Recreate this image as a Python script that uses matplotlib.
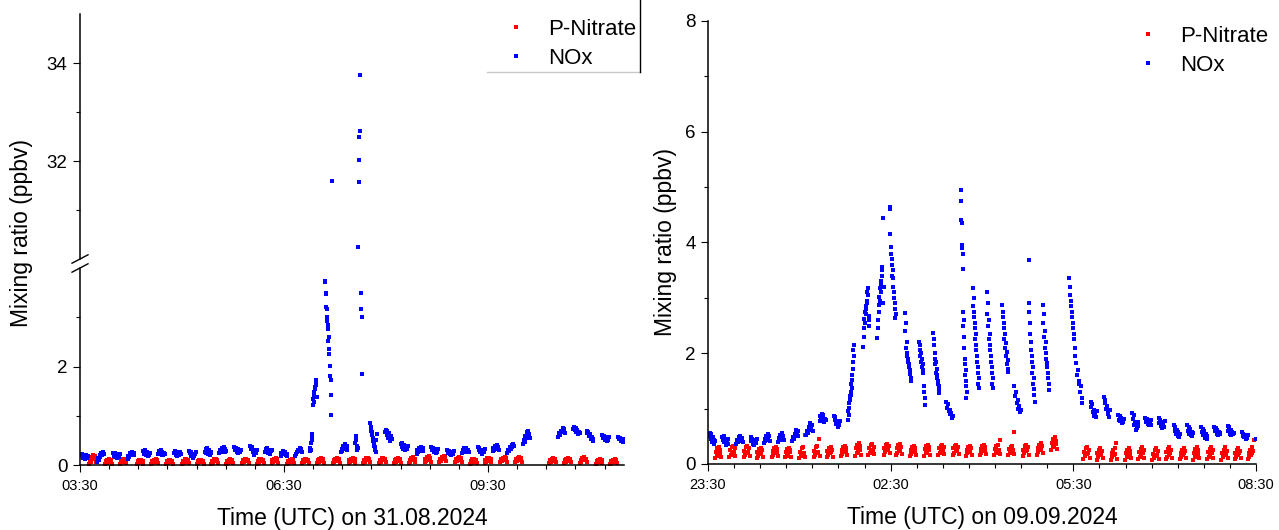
import numpy as np
import pandas as pd
import matplotlib
matplotlib.use("Agg")
import matplotlib.pyplot as plt
import matplotlib.dates as mdates
from matplotlib.ticker import AutoMinorLocator, FixedLocator, MultipleLocator
from matplotlib.lines import Line2D

plt.rcParams['font.family'] = ['Liberation Sans', 'DejaVu Sans']

RED = '#ff0000'
BLUE = '#0000ff'

# ---------------- 31.08.2024 ----------------
day1 = "2024-08-31"
nox1_times = ["03:34", "03:48", "04:02", "04:15", "04:29", "04:42", "04:56", "05:09", "05:23",
              "05:36", "05:49", "06:03", "06:16", "06:30", "06:43", "06:56", "07:09", "07:23",
              "07:36", "07:49", "08:02", "08:16", "08:30", "08:43", "08:57", "09:10", "09:24",
              "09:37", "09:50", "10:04", "10:35", "10:48", "11:00", "11:14", "11:28"]
nox1_vals = [
    [0.18, 0.22, 0.14, 0.20, 0.12, 0.17, 0.21, 0.15, 0.19],
    [0.07, 0.14, 0.10, 0.20, 0.16, 0.25, 0.21, 0.26, 0.22],
    [0.24, 0.18, 0.25, 0.16, 0.22, 0.15, 0.20, 0.17, 0.23],
    [0.13, 0.19, 0.16, 0.24, 0.20, 0.27, 0.22, 0.25, 0.21],
    [0.29, 0.22, 0.30, 0.20, 0.26, 0.19, 0.24, 0.21, 0.25],
    [0.22, 0.28, 0.24, 0.30, 0.21, 0.27, 0.20, 0.25, 0.23],
    [0.24, 0.29, 0.21, 0.27, 0.18, 0.25, 0.20, 0.26, 0.23],
    [0.28, 0.24, 0.26, 0.19, 0.21, 0.14, 0.18, 0.22, 0.26],
    [0.27, 0.32, 0.25, 0.34, 0.22, 0.30, 0.21, 0.26, 0.24],
    [0.24, 0.30, 0.27, 0.35, 0.31, 0.36, 0.26, 0.32, 0.28],
    [0.36, 0.30, 0.35, 0.27, 0.32, 0.24, 0.29, 0.26, 0.31],
    [0.39, 0.33, 0.36, 0.27, 0.30, 0.21, 0.26, 0.24, 0.30],
    [0.27, 0.33, 0.29, 0.35, 0.25, 0.31, 0.23, 0.28, 0.30],
    [0.19, 0.25, 0.22, 0.28, 0.24, 0.27, 0.20, 0.23, 0.18],
    [0.18, 0.23, 0.26, 0.31, 0.28, 0.35, 0.30, 0.33, 0.26],
    [0.28, 0.35, 0.30, 0.45, 0.55, 0.62, 0.50, 1.22, 1.35, 1.28, 1.48, 1.42, 1.58, 1.55,
     1.68, 1.62, 1.73, 1.38],
    [3.74, 3.72, 3.50, 3.20, 3.48, 3.17, 2.92, 3.00, 2.76, 2.85, 2.52, 2.60, 2.25, 2.35,
     1.80, 2.01, 1.72, 1.43, 1.02, 31.6],
    [0.26, 0.33, 0.29, 0.38, 0.33, 0.42, 0.36, 0.39, 0.30],
    [0.45, 0.58, 0.50, 0.38, 0.30, 0.35, 30.25, 31.57, 32.02, 32.5, 32.61, 33.75,
     3.50, 3.16, 3.01, 1.84],
    [0.86, 0.70, 0.78, 0.60, 0.66, 0.48, 0.55, 0.38, 0.45, 0.30, 0.36, 0.27, 0.50, 0.62],
    [0.66, 0.72, 0.60, 0.70, 0.55, 0.64, 0.49, 0.58, 0.52],
    [0.42, 0.36, 0.45, 0.33, 0.40, 0.30, 0.37, 0.32, 0.39],
    [0.23, 0.30, 0.26, 0.35, 0.29, 0.37, 0.31, 0.34, 0.28],
    [0.36, 0.30, 0.35, 0.27, 0.33, 0.25, 0.30, 0.27, 0.32],
    [0.31, 0.25, 0.29, 0.22, 0.27, 0.20, 0.24, 0.22, 0.28],
    [0.24, 0.30, 0.27, 0.34, 0.29, 0.35, 0.27, 0.31, 0.26],
    [0.37, 0.31, 0.35, 0.27, 0.31, 0.23, 0.28, 0.26, 0.33],
    [0.29, 0.35, 0.31, 0.39, 0.34, 0.41, 0.33, 0.37, 0.30],
    [0.25, 0.30, 0.28, 0.36, 0.32, 0.41, 0.37, 0.43, 0.39],
    [0.42, 0.50, 0.46, 0.58, 0.54, 0.66, 0.60, 0.70, 0.63, 0.55],
    [0.57, 0.64, 0.60, 0.70, 0.66, 0.75, 0.69, 0.73, 0.64],
    [0.74, 0.78, 0.71, 0.76, 0.67, 0.72, 0.63, 0.68, 0.65],
    [0.69, 0.64, 0.67, 0.58, 0.62, 0.52, 0.57, 0.48, 0.53],
    [0.61, 0.55, 0.59, 0.51, 0.56, 0.48, 0.53, 0.50, 0.57],
    [0.57, 0.52, 0.55, 0.48, 0.53, 0.46, 0.50, 0.47, 0.52],
]
nit1_times = ["03:41", "03:55", "04:08", "04:23", "04:36", "04:49", "05:03", "05:16", "05:29",
              "05:42", "05:56", "06:09", "06:22", "06:36", "06:49", "07:02", "07:16", "07:30",
              "07:43", "07:57", "08:10", "08:23", "08:37", "08:50", "09:04", "09:17", "09:30",
              "09:44", "09:57", "10:27", "10:40", "10:54", "11:08", "11:21"]
nit1_vals = [
    [0.03, 0.10, 0.06, 0.16, 0.12, 0.20, 0.14, 0.18, 0.07],
    [0.02, 0.08, 0.04, 0.11, 0.06, 0.12, 0.07, 0.10, 0.03],
    [0.03, 0.09, 0.05, 0.12, 0.07, 0.13, 0.08, 0.11, 0.04],
    [0.02, 0.08, 0.04, 0.10, 0.06, 0.11, 0.07, 0.09, 0.03],
    [0.03, 0.09, 0.05, 0.11, 0.07, 0.12, 0.08, 0.10, 0.04],
    [0.02, 0.08, 0.04, 0.10, 0.06, 0.11, 0.07, 0.09, 0.03],
    [0.03, 0.09, 0.05, 0.12, 0.07, 0.12, 0.08, 0.10, 0.04],
    [0.02, 0.08, 0.04, 0.10, 0.06, 0.11, 0.07, 0.09, 0.03],
    [0.03, 0.09, 0.05, 0.12, 0.08, 0.13, 0.09, 0.11, 0.04],
    [0.03, 0.09, 0.05, 0.11, 0.07, 0.12, 0.08, 0.10, 0.04],
    [0.04, 0.10, 0.06, 0.12, 0.08, 0.13, 0.09, 0.11, 0.05],
    [0.03, 0.09, 0.05, 0.12, 0.08, 0.13, 0.09, 0.11, 0.04],
    [0.04, 0.10, 0.06, 0.13, 0.09, 0.14, 0.10, 0.12, 0.05],
    [0.03, 0.09, 0.05, 0.11, 0.07, 0.12, 0.08, 0.10, 0.04],
    [0.04, 0.10, 0.06, 0.12, 0.08, 0.13, 0.09, 0.11, 0.05],
    [0.04, 0.10, 0.06, 0.13, 0.09, 0.15, 0.10, 0.12, 0.05],
    [0.04, 0.10, 0.06, 0.13, 0.09, 0.14, 0.10, 0.12, 0.05],
    [0.04, 0.10, 0.06, 0.13, 0.09, 0.14, 0.10, 0.12, 0.05],
    [0.05, 0.11, 0.07, 0.14, 0.10, 0.15, 0.11, 0.13, 0.06],
    [0.05, 0.11, 0.07, 0.14, 0.10, 0.15, 0.11, 0.13, 0.06],
    [0.04, 0.10, 0.06, 0.13, 0.09, 0.14, 0.10, 0.12, 0.05],
    [0.05, 0.11, 0.07, 0.14, 0.10, 0.16, 0.11, 0.13, 0.06],
    [0.06, 0.13, 0.08, 0.16, 0.11, 0.18, 0.13, 0.15, 0.07],
    [0.07, 0.13, 0.09, 0.17, 0.12, 0.19, 0.14, 0.16, 0.08],
    [0.06, 0.12, 0.08, 0.15, 0.10, 0.17, 0.12, 0.14, 0.07],
    [0.03, 0.09, 0.05, 0.12, 0.07, 0.13, 0.08, 0.10, 0.04],
    [0.05, 0.11, 0.07, 0.14, 0.09, 0.15, 0.10, 0.13, 0.06],
    [0.06, 0.12, 0.08, 0.15, 0.10, 0.17, 0.12, 0.14, 0.07],
    [0.06, 0.12, 0.08, 0.15, 0.10, 0.17, 0.12, 0.14, 0.07],
    [0.05, 0.10, 0.07, 0.13, 0.09, 0.14, 0.10, 0.12, 0.06],
    [0.05, 0.10, 0.07, 0.13, 0.09, 0.14, 0.10, 0.12, 0.06],
    [0.05, 0.11, 0.07, 0.14, 0.10, 0.16, 0.11, 0.13, 0.06],
    [0.03, 0.09, 0.05, 0.11, 0.07, 0.12, 0.08, 0.10, 0.04],
    [0.03, 0.09, 0.05, 0.11, 0.07, 0.12, 0.08, 0.10, 0.04],
]

# ---------------- 09.09.2024 (run starts 23:30 on 08.09) ----------------
day2 = "2024-09-09"
nox2_times = ["23:34", "23:47", "00:01", "00:15", "00:28", "00:42", "00:56", "01:10", "01:23",
              "01:37", "01:51", "02:06", "02:20", "02:32", "02:47", "03:01", "03:15", "03:28",
              "03:42", "03:54", "04:08", "04:23", "04:35", "04:49", "05:03", "05:29", "05:36",
              "05:50", "06:03", "06:17", "06:31", "06:44", "06:57", "07:12", "07:25", "07:39",
              "07:52", "08:05", "08:19", "08:30"]
nox2_vals = [
    [0.50, 0.56, 0.45, 0.54, 0.40, 0.49, 0.37, 0.44, 0.41],
    [0.49, 0.44, 0.51, 0.40, 0.46, 0.35, 0.42, 0.37, 0.45],
    [0.36, 0.43, 0.39, 0.48, 0.44, 0.51, 0.42, 0.47, 0.40],
    [0.48, 0.42, 0.46, 0.37, 0.43, 0.35, 0.40, 0.38, 0.45],
    [0.38, 0.45, 0.41, 0.50, 0.46, 0.54, 0.44, 0.50, 0.42],
    [0.40, 0.47, 0.43, 0.52, 0.48, 0.56, 0.46, 0.51, 0.44],
    [0.41, 0.49, 0.45, 0.55, 0.50, 0.62, 0.54, 0.59, 0.50],
    [0.52, 0.60, 0.56, 0.67, 0.62, 0.74, 0.66, 0.71, 0.60],
    [0.78, 0.86, 0.80, 0.90, 0.83, 0.88, 0.76, 0.82, 0.80],
    [0.86, 0.80, 0.84, 0.73, 0.78, 0.67, 0.72, 0.70, 0.77],
    [0.80, 0.95, 0.88, 1.10, 1.02, 1.22, 1.15, 1.30, 1.25, 1.45, 1.38, 1.60, 1.52, 1.85,
     1.72, 2.05, 1.95, 2.15],
    [2.12, 2.45, 2.30, 2.62, 2.55, 2.75, 2.70, 2.85, 2.80, 2.95, 2.90, 3.10, 3.05, 3.18,
     2.60, 2.50, 2.68],
    [2.28, 2.60, 2.45, 2.88, 2.75, 3.02, 2.95, 3.18, 3.10, 3.30, 3.25, 3.50, 3.40, 3.55,
     4.44, 2.90, 3.20],
    [4.65, 4.60, 4.15, 3.80, 3.92, 3.60, 3.70, 3.40, 3.50, 3.20, 3.35, 3.00, 3.10, 2.80,
     2.90, 2.64, 2.70],
    [2.73, 2.40, 2.55, 2.10, 2.20, 1.95, 2.00, 1.85, 1.90, 1.75, 1.80, 1.62, 1.70, 1.49, 1.55],
    [2.21, 2.05, 2.15, 1.95, 2.00, 1.85, 1.90, 1.75, 1.80, 1.65, 1.70, 1.40, 1.30, 1.20, 1.07],
    [2.36, 2.15, 2.25, 1.90, 2.00, 1.80, 1.85, 1.65, 1.72, 1.55, 1.60, 1.45, 1.50, 1.35,
     1.40, 1.28],
    [1.12, 1.02, 1.08, 0.95, 0.98, 0.90, 0.92, 0.83, 0.86],
    [4.95, 4.75, 4.40, 4.35, 3.95, 3.90, 3.80, 3.53, 2.75, 2.50, 2.60, 2.10, 2.30, 1.80,
     1.90, 1.60, 1.70, 1.40, 1.50, 1.19, 1.30],
    [3.18, 2.85, 3.00, 2.65, 2.75, 2.45, 2.55, 2.25, 2.35, 2.05, 2.15, 1.85, 1.95, 1.65,
     1.75, 1.45, 1.55, 1.37],
    [3.11, 2.70, 2.90, 2.50, 2.60, 2.25, 2.35, 2.05, 2.15, 1.85, 1.95, 1.65, 1.75, 1.45,
     1.55, 1.37],
    [2.87, 2.65, 2.75, 2.45, 2.55, 2.25, 2.35, 2.10, 2.18, 1.95, 2.02, 1.80, 1.88, 1.67, 1.72],
    [1.40, 1.22, 1.30, 1.10, 1.15, 1.00, 1.05, 0.94, 0.97],
    [3.68, 2.75, 2.90, 2.35, 2.55, 2.05, 2.20, 1.85, 1.95, 1.65, 1.75, 1.45, 1.55, 1.25,
     1.35, 1.12],
    [2.87, 2.55, 2.70, 2.30, 2.40, 2.10, 2.20, 1.90, 2.00, 1.75, 1.82, 1.55, 1.65, 1.34, 1.45],
    [3.35, 3.05, 3.20, 2.85, 2.95, 2.65, 2.75, 2.45, 2.55, 2.25, 2.35, 1.95, 2.10],
    [1.82, 1.60, 1.70, 1.45, 1.50, 1.30, 1.40, 1.10, 1.20],
    [1.12, 1.03, 1.08, 0.94, 0.98, 0.87, 0.90, 0.85, 0.95],
    [1.21, 1.10, 1.15, 1.00, 1.05, 0.90, 0.95, 0.85, 0.98],
    [0.88, 0.80, 0.86, 0.77, 0.83, 0.74, 0.78, 0.76, 0.82],
    [0.92, 0.82, 0.88, 0.70, 0.76, 0.61, 0.65, 0.68, 0.75],
    [0.83, 0.75, 0.81, 0.72, 0.78, 0.70, 0.74, 0.71, 0.79],
    [0.83, 0.74, 0.80, 0.68, 0.76, 0.65, 0.72, 0.67, 0.77],
    [0.70, 0.60, 0.66, 0.54, 0.62, 0.50, 0.58, 0.49, 0.55],
    [0.70, 0.60, 0.67, 0.55, 0.63, 0.52, 0.58, 0.50, 0.56],
    [0.67, 0.57, 0.63, 0.52, 0.59, 0.47, 0.55, 0.46, 0.50],
    [0.67, 0.60, 0.65, 0.55, 0.62, 0.52, 0.58, 0.54, 0.56],
    [0.68, 0.60, 0.66, 0.55, 0.62, 0.52, 0.58, 0.54, 0.56],
    [0.57, 0.50, 0.55, 0.48, 0.52, 0.46, 0.50, 0.47, 0.53],
    [0.46],
]
nit2_times = ["23:40", "23:54", "00:08", "00:21", "00:36", "00:49", "01:03", "01:17", "01:30",
              "01:44", "01:58", "02:11", "02:26", "02:38", "02:52", "03:06", "03:20", "03:34",
              "03:47", "04:01", "04:15", "04:29", "04:43", "04:57", "05:11", "05:43", "05:56",
              "06:10", "06:24", "06:37", "06:51", "07:04", "07:18", "07:31", "07:45", "07:59",
              "08:12", "08:25"]
nit2_vals = [
    [0.10, 0.22, 0.14, 0.28, 0.18, 0.30, 0.20, 0.26, 0.12],
    [0.12, 0.25, 0.16, 0.31, 0.20, 0.33, 0.22, 0.29, 0.14],
    [0.12, 0.24, 0.16, 0.30, 0.20, 0.32, 0.22, 0.28, 0.14],
    [0.10, 0.21, 0.14, 0.27, 0.18, 0.29, 0.20, 0.25, 0.12],
    [0.12, 0.23, 0.16, 0.29, 0.20, 0.31, 0.22, 0.27, 0.14],
    [0.12, 0.22, 0.15, 0.27, 0.19, 0.29, 0.21, 0.25, 0.13],
    [0.10, 0.22, 0.14, 0.28, 0.18, 0.30, 0.20, 0.52, 0.12],
    [0.12, 0.24, 0.16, 0.30, 0.20, 0.32, 0.22, 0.46, 0.14],
    [0.12, 0.23, 0.16, 0.28, 0.19, 0.30, 0.21, 0.26, 0.13],
    [0.14, 0.25, 0.18, 0.31, 0.22, 0.33, 0.24, 0.29, 0.16],
    [0.15, 0.28, 0.20, 0.35, 0.24, 0.38, 0.26, 0.32, 0.17],
    [0.16, 0.28, 0.20, 0.34, 0.24, 0.36, 0.26, 0.31, 0.18],
    [0.17, 0.29, 0.21, 0.35, 0.25, 0.37, 0.27, 0.32, 0.19],
    [0.16, 0.28, 0.20, 0.34, 0.24, 0.36, 0.26, 0.31, 0.18],
    [0.14, 0.25, 0.18, 0.31, 0.22, 0.33, 0.24, 0.29, 0.16],
    [0.15, 0.27, 0.19, 0.32, 0.23, 0.34, 0.25, 0.30, 0.17],
    [0.16, 0.28, 0.20, 0.33, 0.24, 0.35, 0.26, 0.31, 0.18],
    [0.16, 0.28, 0.20, 0.33, 0.24, 0.35, 0.26, 0.31, 0.18],
    [0.15, 0.26, 0.19, 0.31, 0.22, 0.33, 0.24, 0.29, 0.17],
    [0.16, 0.27, 0.20, 0.32, 0.23, 0.34, 0.25, 0.30, 0.18],
    [0.16, 0.27, 0.20, 0.32, 0.23, 0.34, 0.25, 0.44, 0.18],
    [0.16, 0.27, 0.20, 0.31, 0.23, 0.33, 0.25, 0.58, 0.18],
    [0.15, 0.26, 0.19, 0.32, 0.23, 0.34, 0.25, 0.30, 0.17],
    [0.17, 0.29, 0.21, 0.35, 0.25, 0.38, 0.27, 0.33, 0.19],
    [0.25, 0.38, 0.30, 0.45, 0.34, 0.49, 0.36, 0.42, 0.27],
    [0.09, 0.22, 0.14, 0.28, 0.18, 0.31, 0.20, 0.26, 0.11],
    [0.08, 0.20, 0.12, 0.26, 0.16, 0.29, 0.18, 0.24, 0.10],
    [0.07, 0.20, 0.12, 0.26, 0.16, 0.29, 0.18, 0.38, 0.09],
    [0.08, 0.19, 0.12, 0.25, 0.16, 0.28, 0.18, 0.23, 0.10],
    [0.09, 0.21, 0.13, 0.27, 0.17, 0.30, 0.19, 0.25, 0.11],
    [0.07, 0.18, 0.11, 0.25, 0.15, 0.29, 0.17, 0.23, 0.09],
    [0.09, 0.21, 0.13, 0.27, 0.17, 0.31, 0.19, 0.25, 0.11],
    [0.09, 0.20, 0.13, 0.26, 0.17, 0.29, 0.19, 0.24, 0.11],
    [0.08, 0.20, 0.12, 0.27, 0.16, 0.31, 0.18, 0.25, 0.10],
    [0.09, 0.21, 0.13, 0.27, 0.17, 0.31, 0.19, 0.25, 0.11],
    [0.08, 0.20, 0.12, 0.26, 0.16, 0.30, 0.18, 0.24, 0.10],
    [0.09, 0.20, 0.13, 0.26, 0.17, 0.29, 0.19, 0.24, 0.11],
    [0.09, 0.20, 0.13, 0.26, 0.17, 0.30, 0.19, 0.24, 0.43],
]


def expand(day, times, groups, width=6.0, prev_day_after=None):
    # each group = samples of one measurement cycle, spread over `width` minutes
    xs, ys = [], []
    for t, vals in zip(times, groups):
        center = pd.Timestamp(f"{day} {t}")
        if prev_day_after is not None and center.hour >= prev_day_after:
            center -= pd.Timedelta(days=1)
        n = len(vals)
        offs = np.linspace(-width / 2, width / 2, n) if n > 1 else [0.0]
        for o, v in zip(offs, vals):
            xs.append(center + pd.Timedelta(minutes=float(o)))
            ys.append(v)
    return mdates.date2num(xs), np.array(ys)


def style_axis(ax, bottom=True):
    for s in ['top', 'right']:
        ax.spines[s].set_visible(False)
    ax.spines['left'].set_linewidth(1.1)
    ax.spines['bottom'].set_linewidth(1.1)
    if not bottom:
        ax.spines['bottom'].set_visible(False)
        ax.tick_params(axis='x', which='both', bottom=False, labelbottom=False)
    ax.tick_params(axis='both', which='major', direction='out', length=5, width=0.8)
    ax.tick_params(axis='both', which='minor', direction='out', length=3, width=0.8)
    ax.tick_params(axis='y', labelsize=13.5, pad=4)
    ax.tick_params(axis='x', labelsize=10.5, pad=5)


MS = 2.9
fig = plt.figure(figsize=(12.79, 5.30), dpi=100)

# left panel with broken y axis
ax_lo = fig.add_axes([0.06255, 0.12264, 0.42533, 0.37170])
ax_hi = fig.add_axes([0.06255, 0.51132, 0.42533, 0.46226], sharex=ax_lo)

x_n1, y_n1 = expand(day1, nit1_times, nit1_vals)
x_x1, y_x1 = expand(day1, nox1_times, nox1_vals)
for ax in (ax_lo, ax_hi):
    ax.plot(x_n1, y_n1, 's', color=RED, ms=MS, mew=0, label='P-Nitrate')
    ax.plot(x_x1, y_x1, 's', color=BLUE, ms=MS, mew=0, label='NOx')
    ax.set_facecolor('none')

ax_lo.set_ylim(0, 4)
ax_hi.set_ylim(30, 35)
ax_lo.yaxis.set_major_locator(FixedLocator([0, 2]))
ax_lo.yaxis.set_minor_locator(FixedLocator([1, 3]))
ax_hi.yaxis.set_major_locator(FixedLocator([32, 34]))
ax_hi.yaxis.set_minor_locator(FixedLocator([31, 33]))
style_axis(ax_lo)
style_axis(ax_hi, bottom=False)

t0 = pd.Timestamp(f"{day1} 03:30")
t1 = pd.Timestamp(f"{day1} 11:30")
ax_lo.set_xlim(mdates.date2num(t0), mdates.date2num(t1))
ax_lo.xaxis.set_major_locator(FixedLocator(mdates.date2num(pd.date_range(t0, t1, freq='3h'))))
ax_lo.xaxis.set_minor_locator(AutoMinorLocator(7))
ax_lo.xaxis.set_major_formatter(mdates.DateFormatter('%H:%M'))
ax_lo.set_xlabel('Time (UTC) on 31.08.2024', fontsize=16.5, labelpad=10)

# break marks
for ax, yb in ((ax_hi, 0.0), (ax_lo, 1.0)):
    h = ax.get_position().height * 530
    w = ax.get_position().width * 1279
    ax.plot([-8 / w, 8 / w], [yb - 4.2 / h, yb + 4.2 / h], transform=ax.transAxes,
            color='black', lw=1.0, clip_on=False)

fig.text(22 / 1279, 1 - 233 / 530, 'Mixing ratio (ppbv)', rotation=90, fontsize=16.5,
         ha='center', va='center')

ax_hi.legend(loc='upper left', bbox_to_anchor=(505 / 1279, 1 - 19 / 530),
             bbox_transform=fig.transFigure, frameon=False, fontsize=16,
             handlelength=1.0, handletextpad=0.95, labelspacing=0.35,
             borderpad=0, borderaxespad=0, markerscale=0.8)
fig.add_artist(Line2D([487 / 1279, 640 / 1279], [1 - 72 / 530, 1 - 72 / 530],
                      transform=fig.transFigure, color='#c8c8c8', lw=1.0))
fig.add_artist(Line2D([640 / 1279, 640 / 1279], [1 - 72 / 530, 1.0],
                      transform=fig.transFigure, color='black', lw=1.0))

# right panel
ax_r = fig.add_axes([0.55356, 0.12453, 0.42846, 0.83585])
x_n2, y_n2 = expand(day2, nit2_times, nit2_vals, prev_day_after=20)
x_x2, y_x2 = expand(day2, nox2_times, nox2_vals, prev_day_after=20)
ax_r.plot(x_n2, y_n2, 's', color=RED, ms=MS, mew=0, label='P-Nitrate')
ax_r.plot(x_x2, y_x2, 's', color=BLUE, ms=MS, mew=0, label='NOx')
ax_r.set_ylim(0, 8)
ax_r.yaxis.set_major_locator(MultipleLocator(2))
ax_r.yaxis.set_minor_locator(MultipleLocator(1))
style_axis(ax_r)
r0 = pd.Timestamp("2024-09-08 23:30")
r1 = pd.Timestamp("2024-09-09 08:30")
ax_r.set_xlim(mdates.date2num(r0), mdates.date2num(r1))
ax_r.xaxis.set_major_locator(FixedLocator(mdates.date2num(pd.date_range(r0, r1, freq='3h'))))
ax_r.xaxis.set_minor_locator(AutoMinorLocator(7))
ax_r.xaxis.set_major_formatter(mdates.DateFormatter('%H:%M'))
ax_r.set_xlabel('Time (UTC) on 09.09.2024', fontsize=16.5, labelpad=10)
ax_r.set_ylabel('Mixing ratio (ppbv)', fontsize=16.5, labelpad=6)
ax_r.legend(loc='upper left', bbox_to_anchor=(1137 / 1279, 1 - 26 / 530),
            bbox_transform=fig.transFigure, frameon=False, fontsize=16,
            handlelength=1.0, handletextpad=0.95, labelspacing=0.35,
            borderpad=0, borderaxespad=0, markerscale=0.8)

fig.savefig('out.png', dpi=100)
